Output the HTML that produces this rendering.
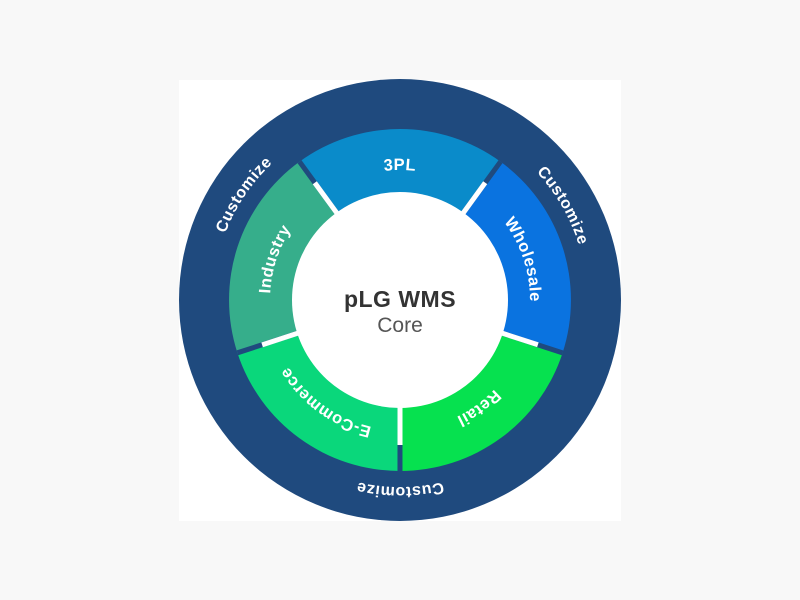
<!DOCTYPE html>
<html><head><meta charset="utf-8"><style>
html,body{margin:0;padding:0;background:#f8f8f8;}
svg{display:block;}
text{font-family:"Liberation Sans",sans-serif;}
</style></head><body>
<svg width="800" height="600" viewBox="0 0 800 600" xmlns="http://www.w3.org/2000/svg">
<rect x="0" y="0" width="800" height="600" fill="#f8f8f8"/>
<rect x="179" y="80" width="442" height="441" fill="#ffffff"/>
<g transform="translate(400,300)">
<circle r="221" fill="#1f4a7e"/>
<defs>
<path id="seg" d="M -100.5 -138.3 A171 171 0 0 1 100.5 -138.3 L 58.8 -80.9 A100 100 0 0 0 -58.8 -80.9 Z"/>
<path id="tp" d="M -116.9 -67.5 A135 135 0 0 1 116.9 -67.5"/>
<path id="cp" d="M -166.3 -96 A192 192 0 0 1 166.3 -96"/>
</defs>
<use href="#seg" fill="#0a8bca"/>
<use href="#seg" fill="#0a73e0" transform="rotate(72)"/>
<use href="#seg" fill="#06e14f" transform="rotate(144)"/>
<use href="#seg" fill="#0ad77b" transform="rotate(216)"/>
<use href="#seg" fill="#36ae8b" transform="rotate(288)"/>
<g id="sep">
<line x1="58.8" y1="-80.9" x2="100.5" y2="-138.3" stroke="#1f4a7e" stroke-width="5"/>
<line x1="58.8" y1="-80.9" x2="85.2" y2="-117.3" stroke="#ffffff" stroke-width="5"/>
</g>
<use href="#sep" transform="rotate(72)"/>
<use href="#sep" transform="rotate(144)"/>
<use href="#sep" transform="rotate(216)"/>
<use href="#sep" transform="rotate(288)"/>
<circle r="108" fill="#ffffff"/>
<g fill="#ffffff" font-weight="bold" font-size="16.5" letter-spacing="0.8">
<text dominant-baseline="central"><textPath href="#tp" startOffset="50%" text-anchor="middle">3PL</textPath></text>
<g transform="rotate(72)"><text dominant-baseline="central"><textPath href="#tp" startOffset="50%" text-anchor="middle">Wholesale</textPath></text></g>
<g transform="rotate(144)"><text dominant-baseline="central"><textPath href="#tp" startOffset="50%" text-anchor="middle">Retail</textPath></text></g>
<g transform="rotate(216)"><text dominant-baseline="central"><textPath href="#tp" startOffset="50%" text-anchor="middle">E-Commerce</textPath></text></g>
<g transform="rotate(288)"><text dominant-baseline="central"><textPath href="#tp" startOffset="50%" text-anchor="middle">Industry</textPath></text></g>
</g>
<g fill="#ffffff" font-weight="bold" font-size="16" letter-spacing="0.8">
<g transform="rotate(-56)"><text dominant-baseline="central"><textPath href="#cp" startOffset="50%" text-anchor="middle">Customize</textPath></text></g>
<g transform="rotate(60)"><text dominant-baseline="central"><textPath href="#cp" startOffset="50%" text-anchor="middle">Customize</textPath></text></g>
<g transform="rotate(180)"><text dominant-baseline="central"><textPath href="#cp" startOffset="50%" text-anchor="middle">Customize</textPath></text></g>
</g>
<text x="0" y="7" text-anchor="middle" font-size="23" font-weight="bold" fill="#333333" letter-spacing="0.5">pLG WMS</text>
<text x="0" y="32" text-anchor="middle" font-size="21" fill="#555555">Core</text>
</g>
</svg>
</body></html>
